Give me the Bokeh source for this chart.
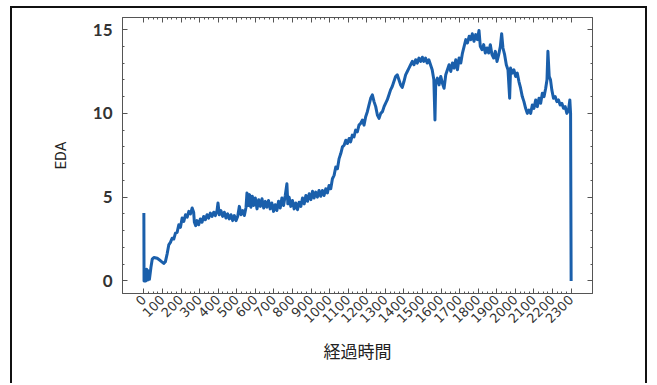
import math
from bokeh.plotting import figure
from bokeh.models import LinearAxis, Range1d, FixedTicker
from bokeh.embed import file_html
from bokeh.resources import INLINE

# elapsed time (s) and EDA values
elapsed_s = [0, 1, 5, 10, 15, 20, 25, 30, 38, 45, 54, 72, 90, 107, 116, 125, 134, 143, 152, 161,
             170, 179, 188, 197, 206, 215, 224, 233, 242, 251, 260, 268, 272, 279, 286, 295, 304, 313, 322, 331,
             340, 349, 358, 367, 376, 385, 394, 399, 406, 415, 424, 433, 442, 451, 460, 469, 478, 487, 496, 505,
             514, 523, 532, 541, 550, 555, 562, 569, 576, 584, 591, 600, 609, 618, 627, 636, 645, 654, 662, 671,
             680, 689, 698, 707, 716, 725, 734, 743, 752, 761, 770, 775, 782, 791, 800, 809, 818, 827, 836, 845,
             854, 863, 872, 881, 890, 899, 908, 916, 925, 934, 943, 952, 961, 970, 979, 988, 997, 1006, 1015, 1024,
             1033, 1042, 1051, 1060, 1069, 1078, 1087, 1096, 1105, 1113, 1122, 1131, 1140, 1149, 1158, 1167, 1176, 1185, 1194, 1203,
             1212, 1221, 1230, 1239, 1248, 1257, 1266, 1275, 1284, 1293, 1301, 1310, 1319, 1328, 1337, 1346, 1355, 1364, 1373, 1382,
             1391, 1400, 1409, 1418, 1427, 1436, 1445, 1454, 1463, 1472, 1481, 1490, 1499, 1507, 1516, 1525, 1534, 1543, 1552, 1561,
             1567, 1571, 1580, 1589, 1598, 1607, 1616, 1625, 1634, 1643, 1652, 1661, 1670, 1679, 1688, 1697, 1706, 1715, 1724, 1733,
             1742, 1751, 1760, 1768, 1777, 1786, 1795, 1804, 1811, 1820, 1829, 1838, 1847, 1856, 1865, 1874, 1883, 1892, 1901, 1910,
             1919, 1926, 1933, 1942, 1951, 1960, 1969, 1974, 1983, 1992, 2001, 2010, 2019, 2028, 2037, 2046, 2055, 2064, 2073, 2082,
             2091, 2100, 2109, 2118, 2127, 2136, 2145, 2154, 2163, 2170, 2175, 2182, 2189, 2196, 2205, 2214, 2223, 2232, 2241, 2250,
             2259, 2268, 2277, 2286, 2293, 2297, 2300]
eda = [4.05, 0.0, 0.6, 0.0, 0.7, 0.05, 0.6, 0.1, 0.8, 1.3, 1.4, 1.35, 1.2, 1.05, 1.15, 1.6, 2.15, 2.3, 2.55, 2.5,
       2.85, 2.9, 3.35, 3.2, 3.75, 3.55, 3.95, 3.8, 4.15, 4.0, 4.35, 4.1, 3.5, 3.3, 3.6, 3.35, 3.7, 3.5, 3.85, 3.65,
       3.95, 3.75, 4.05, 3.85, 4.1, 3.9, 4.2, 4.65, 3.95, 4.2, 3.85, 4.1, 3.75, 4.0, 3.7, 3.95, 3.6, 3.9, 3.6, 3.85,
       4.45, 3.95, 4.2, 3.9, 4.4, 5.25, 4.5, 5.15, 4.4, 5.05, 4.5, 4.95, 4.3, 4.85, 4.45, 4.9, 4.35, 4.75, 4.4, 4.8,
       4.3, 4.65, 4.15, 4.55, 4.2, 4.75, 4.35, 4.95, 4.5, 5.1, 5.8, 4.6, 5.0, 4.45, 4.8, 4.3, 4.65, 4.25, 4.7, 4.45,
       4.95, 4.6, 5.1, 4.75, 5.2, 4.85, 5.35, 4.95, 5.3, 5.0, 5.4, 5.05, 5.4, 5.1, 5.5, 5.25, 5.7, 5.5, 6.1, 6.3,
       6.8, 6.7, 7.3, 7.6, 8.0, 8.1, 8.4, 8.2, 8.5, 8.3, 8.7, 8.6, 9.0, 8.9, 9.3, 9.4, 9.6, 9.3, 9.8, 10.1,
       10.5, 10.9, 11.1, 10.7, 10.4, 9.9, 9.7, 10.0, 10.1, 10.4, 10.6, 10.8, 11.1, 11.4, 11.6, 11.9, 12.2, 12.3, 12.0, 11.7,
       11.55, 11.9, 12.3, 12.5, 12.7, 12.9, 13.1, 12.9, 13.2, 13.0, 13.3, 13.1, 13.35, 13.1, 13.3, 13.0, 13.2, 12.9, 12.6, 12.0,
       9.6, 11.8, 12.1, 11.7, 12.2, 11.8, 11.5, 12.3, 12.6, 12.9, 12.5, 13.0, 12.7, 13.2, 12.6, 13.3, 13.0, 13.6, 14.0, 14.4,
       14.2, 14.6, 14.4, 14.75, 14.3, 14.7, 14.4, 14.95, 14.0, 13.8, 14.1, 13.6, 13.9, 13.6, 14.1, 13.5, 13.3, 13.7, 13.1, 13.5,
       14.0, 14.75, 13.9, 13.5, 12.9, 12.6, 10.9, 12.7, 12.4, 12.6, 12.2, 12.4, 11.9, 11.5, 11.0, 10.7, 10.3, 10.0, 10.2, 10.0,
       10.5, 10.3, 10.8, 10.4, 10.9, 10.6, 11.2, 11.0, 11.5, 12.0, 13.7, 12.2, 12.0, 11.4, 10.9, 11.0, 10.7, 10.8, 10.5, 10.6,
       10.3, 10.4, 10.0, 10.2, 10.8, 10.0, 0.0]

x_ticks = list(range(0, 2301, 100))
x_tick_labels = [str(t) for t in x_ticks]
y_ticks = [0, 5, 10, 15]

p = figure(width=637, height=377, output_backend="svg", toolbar_location=None,
           x_range=Range1d(-115, 2415), y_range=Range1d(-0.75, 15.72),
           min_border_left=110, min_border_right=57, min_border_top=9, min_border_bottom=92)
p.styles = {"margin-left": "10px", "margin-top": "6px",
            "border-left": "2px solid #111", "border-top": "2px solid #111", "border-right": "2px solid #111"}

p.line(elapsed_s, eda, line_color="#1a5fab", line_width=3, line_join="round")

p.grid.visible = False
p.outline_line_color = "#555555"
p.outline_line_width = 1
p.background_fill_color = "white"
p.border_fill_color = "white"

def style_axis(ax, labels=True):
    ax.axis_line_color = "#555555"
    ax.major_tick_line_color = "#555555"
    ax.minor_tick_line_color = "#555555"
    ax.major_tick_in = 5
    ax.major_tick_out = 0
    ax.minor_tick_in = 2
    ax.minor_tick_out = 0
    if not labels:
        ax.major_label_text_font_size = "1px"
        ax.major_label_text_color = None
        ax.major_label_standoff = 0

xax = p.xaxis[0]
style_axis(xax)
xax.ticker = FixedTicker(ticks=x_ticks, minor_ticks=list(range(0, 2301, 25)))
xax.major_label_overrides = {t: l for t, l in zip(x_ticks, x_tick_labels)}
xax.major_label_orientation = math.pi / 4
xax.major_label_text_font = "DejaVu Sans"
xax.major_label_text_font_size = "13px"
xax.major_label_text_color = "#333333"
xax.major_label_standoff = 4
xax.axis_label = "経過時間"
xax.axis_label_text_font = "Noto Sans CJK JP"
xax.axis_label_text_font_style = "normal"
xax.axis_label_text_font_size = "17px"
xax.axis_label_text_color = "#222222"
xax.axis_label_standoff = 8

yax = p.yaxis[0]
style_axis(yax)
yax.ticker = FixedTicker(ticks=y_ticks, minor_ticks=list(range(0, 16)))
yax.major_label_text_font = "Lato"
yax.major_label_text_font_size = "17px"
yax.major_label_text_font_style = "bold"
yax.major_label_text_color = "#333333"
yax.major_label_standoff = 10
yax.axis_label = "EDA"
yax.axis_label_text_font = "Roboto"
yax.axis_label_text_font_style = "normal"
yax.axis_label_text_font_size = "15px"
yax.axis_label_text_color = "#222222"
yax.axis_label_standoff = 20

top = LinearAxis(ticker=FixedTicker(ticks=x_ticks, minor_ticks=list(range(0, 2301, 25))))
style_axis(top, labels=False)
p.add_layout(top, "above")
right = LinearAxis(ticker=FixedTicker(ticks=y_ticks, minor_ticks=list(range(0, 16))))
style_axis(right, labels=False)
p.add_layout(right, "right")

open("out.html", "w").write(file_html(p, INLINE))
